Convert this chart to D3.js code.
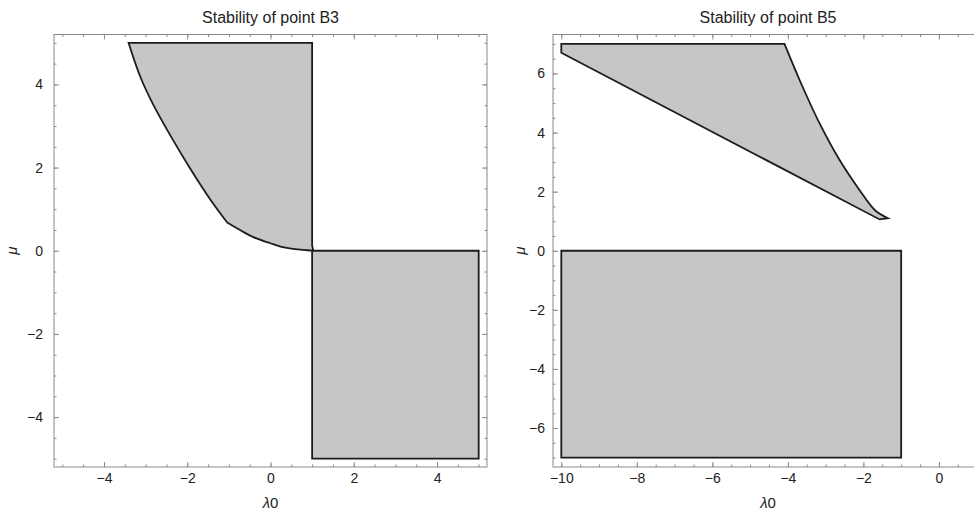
<!DOCTYPE html>
<html><head><meta charset="utf-8">
<script src="https://cdn.jsdelivr.net/npm/d3@7"></script>
<style>
html,body{margin:0;padding:0;background:#fff;}
svg text{font-family:"Liberation Sans",Arial,Helvetica,sans-serif;}
</style></head>
<body><svg id="c" width="974" height="511"></svg>
<script>
// ---- data ----
const titles = ["Stability of point B3", "Stability of point B5"];
const xLabel = "λ0";
const yLabel = "μ";
// B3: upper region (vertical edge at λ0=1, then boundary curve back to the top)
const b3UpperLambda = [-3.41, 1.00, 1.00, 1.03, 0.80, 0.50, 0.24, 0.00, -0.40, -0.70, -1.04, -1.45, -1.93, -2.41, -2.81, -3.13];
const b3UpperMu     = [ 5.00, 5.00, 0.12, 0.00, 0.02, 0.05, 0.10, 0.18,  0.32,  0.48,  0.68,  1.24,  1.98,  2.78,  3.50,  4.19];
// B3: lower rectangle
const b3LowerLambda = [1, 5, 5, 1];
const b3LowerMu     = [0, 0, -5, -5];
// B5: upper wedge
const b5UpperLambda = [-10, -4.09, -3.69, -3.16, -2.63, -2.10, -1.70, -1.35, -1.57, -10];
const b5UpperMu     = [7.00, 7.00, 5.78, 4.31, 3.07, 2.05, 1.38, 1.10, 1.06, 6.70];
// B5: lower rectangle
const b5LowerLambda = [-10, -1, -1, -10];
const b5LowerMu     = [0, 0, -7, -7];
// axes
const b3XTicks = [-4, -2, 0, 2, 4];
const b3YTicks = [-4, -2, 0, 2, 4];
const b5XTicks = [-10, -8, -6, -4, -2, 0];
const b5YTicks = [-6, -4, -2, 0, 2, 4, 6];
const b3XDomain = [-5.2, 5.2], b3YDomain = [-5.2, 5.2];
const b5XDomain = [-10.22, 1.22], b5YDomain = [-7.32, 7.32];

// ---- drawing ----
const svg = d3.select("#c");
const FILL = "#c5c7c6", STROKE = "#1c1c1c", FRAME = "#8a8a8a", TXT = "#222";

function minorTicks(domain, step){
  const out = [];
  const s = Math.ceil(domain[0]/step), e = Math.floor(domain[1]/step);
  for (let i = s; i <= e; i++) out.push(+(i*step).toFixed(6));
  return out;
}

function panel(cfg){
  const g = svg.append("g");
  const x = d3.scaleLinear().domain(cfg.xDomain).range([cfg.left, cfg.right]);
  const y = d3.scaleLinear().domain(cfg.yDomain).range([cfg.bottom, cfg.top]);
  const fmt = d => (d < 0 ? "\u2212" + Math.abs(d) : String(d));

  const straight = d3.line().x(d => x(d[0])).y(d => y(d[1]));
  const smooth = d3.line().x(d => x(d[0])).y(d => y(d[1])).curve(d3.curveCatmullRom.alpha(0.5));

  // regions: pieces = list of [indices, isSmooth]
  cfg.regions.forEach(r => {
    const pts = r.lambda.map((l, i) => [l, r.mu[i]]);
    let d = "";
    r.pieces.forEach((pc, k) => {
      const sub = pc[0].map(i => pts[i]);
      let s = (pc[1] ? smooth : straight)(sub);
      if (k > 0) s = "L" + s.slice(1);
      d += s;
    });
    g.append("path").attr("d", d + "Z")
      .attr("fill", FILL).attr("stroke", STROKE).attr("stroke-width", 1.8)
      .attr("stroke-linejoin", "miter");
  });

  // frame
  g.append("rect").attr("x", cfg.left).attr("y", cfg.top)
    .attr("width", cfg.right - cfg.left).attr("height", cfg.bottom - cfg.top)
    .attr("fill", "none").attr("stroke", FRAME).attr("stroke-width", 1);

  function styleAxis(sel){
    sel.select(".domain").remove();
    sel.selectAll(".tick line").attr("stroke", FRAME).attr("stroke-width", 1);
    sel.selectAll(".tick text").attr("fill", TXT).attr("font-size", 14);
  }
  const xMinor = minorTicks(cfg.xDomain, 0.5), yMinor = minorTicks(cfg.yDomain, 0.5);

  // bottom
  g.append("g").attr("transform", `translate(0,${cfg.bottom})`)
    .call(d3.axisBottom(x).tickValues(xMinor).tickSize(-2.5).tickFormat("")).call(styleAxis);
  g.append("g").attr("transform", `translate(0,${cfg.bottom})`)
    .call(d3.axisBottom(x).tickValues(cfg.xTicks).tickSize(-5).tickPadding(6).tickFormat(fmt)).call(styleAxis);
  // top
  g.append("g").attr("transform", `translate(0,${cfg.top})`)
    .call(d3.axisTop(x).tickValues(xMinor).tickSize(-2.5).tickFormat("")).call(styleAxis);
  g.append("g").attr("transform", `translate(0,${cfg.top})`)
    .call(d3.axisTop(x).tickValues(cfg.xTicks).tickSize(-5).tickFormat("")).call(styleAxis);
  // left
  g.append("g").attr("transform", `translate(${cfg.left},0)`)
    .call(d3.axisLeft(y).tickValues(yMinor).tickSize(-2.5).tickFormat("")).call(styleAxis);
  g.append("g").attr("transform", `translate(${cfg.left},0)`)
    .call(d3.axisLeft(y).tickValues(cfg.yTicks).tickSize(-5).tickPadding(cfg.yPad).tickFormat(fmt)).call(styleAxis);
  // right
  g.append("g").attr("transform", `translate(${cfg.right},0)`)
    .call(d3.axisRight(y).tickValues(yMinor).tickSize(-2.5).tickFormat("")).call(styleAxis);
  g.append("g").attr("transform", `translate(${cfg.right},0)`)
    .call(d3.axisRight(y).tickValues(cfg.yTicks).tickSize(-5).tickFormat("")).call(styleAxis);

  // title
  g.append("text").attr("x", cfg.center).attr("y", 23)
    .attr("text-anchor", "middle").attr("font-size", 16).attr("fill", TXT).text(cfg.title);
  // x label
  g.append("text").attr("x", cfg.center).attr("y", 508)
    .attr("text-anchor", "middle").attr("font-size", 15).attr("fill", TXT)
    .html('<tspan font-style="italic">λ</tspan>0');
  // y label
  g.append("text").attr("transform", `translate(${cfg.left - cfg.yLabOff},${y(0)}) rotate(-90)`)
    .attr("text-anchor", "middle").attr("font-size", 15).attr("font-style", "italic").attr("fill", TXT)
    .text(yLabel);
}

panel({
  title: titles[0], left: 54, right: 487, top: 34.5, bottom: 467, center: 270.5, yPad: 11, yLabOff: 37,
  xDomain: b3XDomain, yDomain: b3YDomain, xTicks: b3XTicks, yTicks: b3YTicks,
  regions: [
    {lambda: b3UpperLambda, mu: b3UpperMu,
     pieces: [[[0, 1, 2, 3], false], [[3, 4, 5, 6, 7, 8, 9, 10], true], [[10, 11, 12, 13, 14, 15, 0], true]]},
    {lambda: b3LowerLambda, mu: b3LowerMu, pieces: [[[0, 1, 2, 3], false]]}
  ]
});
panel({
  title: titles[1], left: 553, right: 985, top: 34.5, bottom: 467, center: 768, yPad: 8, yLabOff: 28,
  xDomain: b5XDomain, yDomain: b5YDomain, xTicks: b5XTicks, yTicks: b5YTicks,
  regions: [
    {lambda: b5UpperLambda, mu: b5UpperMu,
     pieces: [[[0], false], [[1, 2, 3, 4, 5, 6, 7], true], [[7, 8, 9], false]]},
    {lambda: b5LowerLambda, mu: b5LowerMu, pieces: [[[0, 1, 2, 3], false]]}
  ]
});
</script></body></html>
